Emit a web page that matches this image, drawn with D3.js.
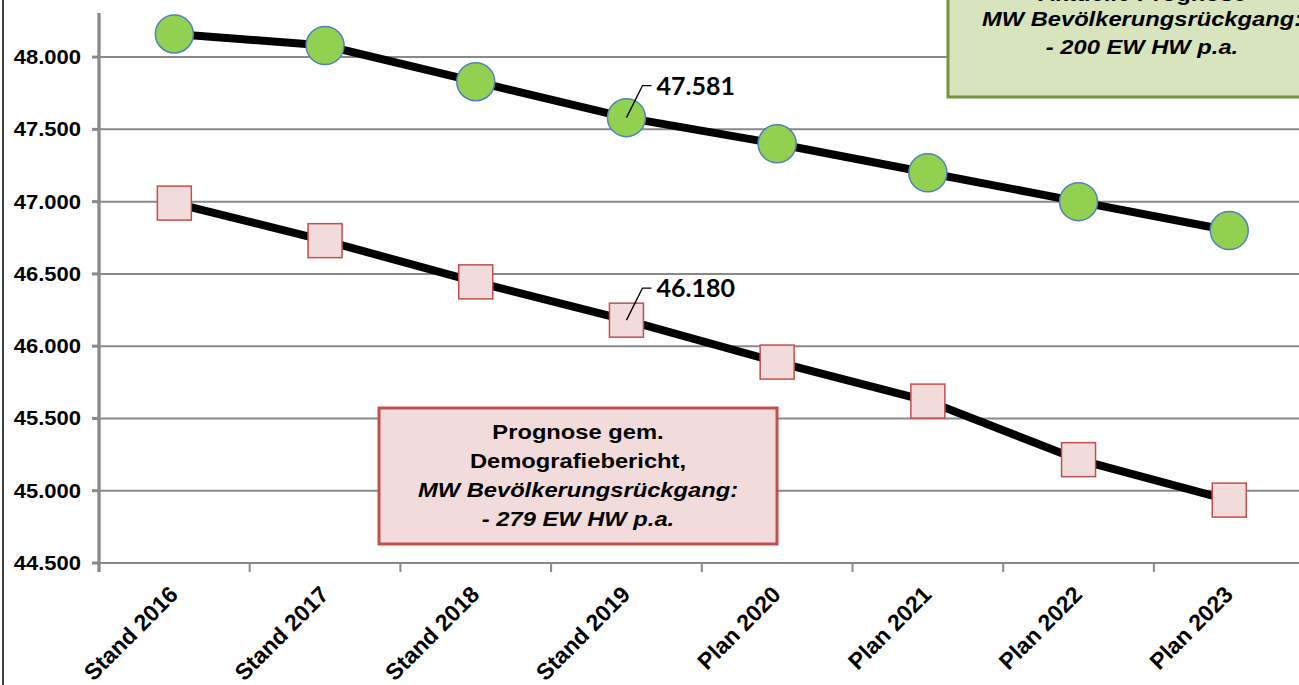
<!DOCTYPE html>
<html lang="de">
<head>
<meta charset="UTF-8">
<title>Einwohnerprognose</title>
<script src="https://d3js.org/d3.v7.min.js"></script>
<style>
  body { margin: 0; background: #fff; }
  svg { display: block; }
  .ytick text { font-family: "Liberation Sans", Arial, sans-serif; font-weight: bold; font-size: 20px; fill: #000; }
  .xtick text { font-family: "Liberation Sans", Arial, sans-serif; font-weight: bold; font-size: 23px; fill: #000; }
  .dlabel { font-family: Lato, "Open Sans", sans-serif; font-weight: bold; font-size: 25px; }
  .box text { font-family: "Liberation Sans", Arial, sans-serif; font-weight: bold; font-size: 21px; }
</style>
</head>
<body>
<svg id="chart" width="1299" height="685"></svg>
<script>
// data
const categories = ["Stand 2016", "Stand 2017", "Stand 2018", "Stand 2019", "Plan 2020", "Plan 2021", "Plan 2022", "Plan 2023"];
const aktuell = [48160, 48080, 47830, 47581, 47400, 47200, 47000, 46800];
const demografie = [46990, 46730, 46445, 46180, 45890, 45620, 45215, 44935];
const yTicks = [44500, 45000, 45500, 46000, 46500, 47000, 47500, 48000];
const labelIndex = 3;

const svg = d3.select("#chart");
const plotLeft = 99, plotTop = 13, plotBottom = 563;
const x = d3.scaleBand().domain(categories).range([plotLeft, plotLeft + 8 * 150.7]);
const y = d3.scaleLinear().domain([44500, 48305]).range([plotBottom, plotTop]);
const fmt = d3.format(",.0f");
const de = v => fmt(v).replace(/,/g, ".");
const grey = "#898989";

// left border of chart area
svg.append("line").attr("x1", 3).attr("x2", 3).attr("y1", 0).attr("y2", 685)
  .attr("stroke", "#000").attr("stroke-width", 1.5);

// gridlines
svg.append("g").selectAll("line").data(yTicks.slice(1)).join("line")
  .attr("x1", plotLeft).attr("x2", 1299)
  .attr("y1", d => y(d)).attr("y2", d => y(d))
  .attr("stroke", grey).attr("stroke-width", 2);

// y axis
const yAxis = svg.append("g").attr("class", "ytick");
yAxis.append("line").attr("x1", plotLeft).attr("x2", plotLeft).attr("y1", plotTop).attr("y2", plotBottom + 9)
  .attr("stroke", grey).attr("stroke-width", 3.3);
yAxis.selectAll("line.t").data(yTicks).join("line").attr("class", "t")
  .attr("x1", plotLeft - 7).attr("x2", plotLeft).attr("y1", d => y(d)).attr("y2", d => y(d))
  .attr("stroke", grey).attr("stroke-width", 3);
yAxis.selectAll("text").data(yTicks).join("text")
  .attr("text-anchor", "end")
  .attr("transform", d => `translate(81,${y(d) + 7}) scale(1.1,1)`)
  .text(d => de(d));

// x axis
const xAxis = svg.append("g").attr("class", "xtick");
xAxis.append("line").attr("x1", plotLeft).attr("x2", 1299).attr("y1", plotBottom).attr("y2", plotBottom)
  .attr("stroke", grey).attr("stroke-width", 2);
const edges = categories.map(c => x(c)).concat([x.range()[1]]);
xAxis.selectAll("line.t").data(edges).join("line").attr("class", "t")
  .attr("x1", d => d).attr("x2", d => d).attr("y1", plotBottom).attr("y2", plotBottom + 9)
  .attr("stroke", grey).attr("stroke-width", 2);
xAxis.selectAll("text").data(categories).join("text")
  .attr("text-anchor", "end")
  .attr("transform", d => `translate(${x(d) + x.bandwidth() / 2 + 5},${plotBottom + 33}) rotate(-45)`)
  .text(d => d);

const cx = (d, i) => x(categories[i]) + x.bandwidth() / 2;
const line = d3.line().x(cx).y(d => y(d));

// lines
[aktuell, demografie].forEach(s => {
  svg.append("path").datum(s).attr("d", line)
    .attr("fill", "none").attr("stroke", "#000").attr("stroke-width", 8);
});

// markers
svg.append("g").selectAll("circle").data(aktuell).join("circle")
  .attr("cx", cx).attr("cy", d => y(d)).attr("r", 19)
  .attr("fill", "#92d050").attr("stroke", "#4f81bd").attr("stroke-width", 1.5);
svg.append("g").selectAll("rect").data(demografie).join("rect")
  .attr("x", (d, i) => cx(d, i) - 17).attr("y", d => y(d) - 17)
  .attr("width", 34).attr("height", 34)
  .attr("fill", "#f2dcdb").attr("stroke", "#c0504d").attr("stroke-width", 1.5);

// data labels with leader lines
[aktuell, demografie].forEach(s => {
  const px = cx(s[labelIndex], labelIndex), py = y(s[labelIndex]);
  svg.append("path")
    .attr("d", `M${px},${py} L${px + 16},${py - 32} L${px + 25},${py - 32}`)
    .attr("fill", "none").attr("stroke", "#000").attr("stroke-width", 1.3);
  svg.append("text").attr("class", "dlabel")
    .attr("x", px + 30).attr("y", py - 23).text(de(s[labelIndex]));
});

// annotation boxes
function box(x0, y0, w, h, fill, stroke, cxText, lines) {
  const g = svg.append("g").attr("class", "box");
  g.append("rect").attr("x", x0).attr("y", y0).attr("width", w).attr("height", h)
    .attr("fill", fill).attr("stroke", stroke).attr("stroke-width", 3);
  g.selectAll("text").data(lines).join("text")
    .attr("text-anchor", "middle")
    .attr("transform", d => `translate(${cxText},${d.y}) scale(1.13,1)`)
    .attr("font-style", d => d.italic ? "italic" : "normal")
    .text(d => d.t);
}
box(379, 408, 398, 136, "#f2dcdb", "#c0504d", 578, [
  { t: "Prognose gem.", italic: false, y: 439 },
  { t: "Demografiebericht,", italic: false, y: 468 },
  { t: "MW Bevölkerungsrückgang:", italic: true, y: 497 },
  { t: "- 279 EW HW p.a.", italic: true, y: 526 }
]);
box(948, -20, 400, 117, "#d7e4bd", "#77933c", 1142, [
  { t: "Aktuelle Prognose", italic: false, y: 1 },
  { t: "MW Bevölkerungsrückgang:", italic: true, y: 26 },
  { t: "- 200 EW HW p.a.", italic: true, y: 54 }
]);
</script>
</body>
</html>
